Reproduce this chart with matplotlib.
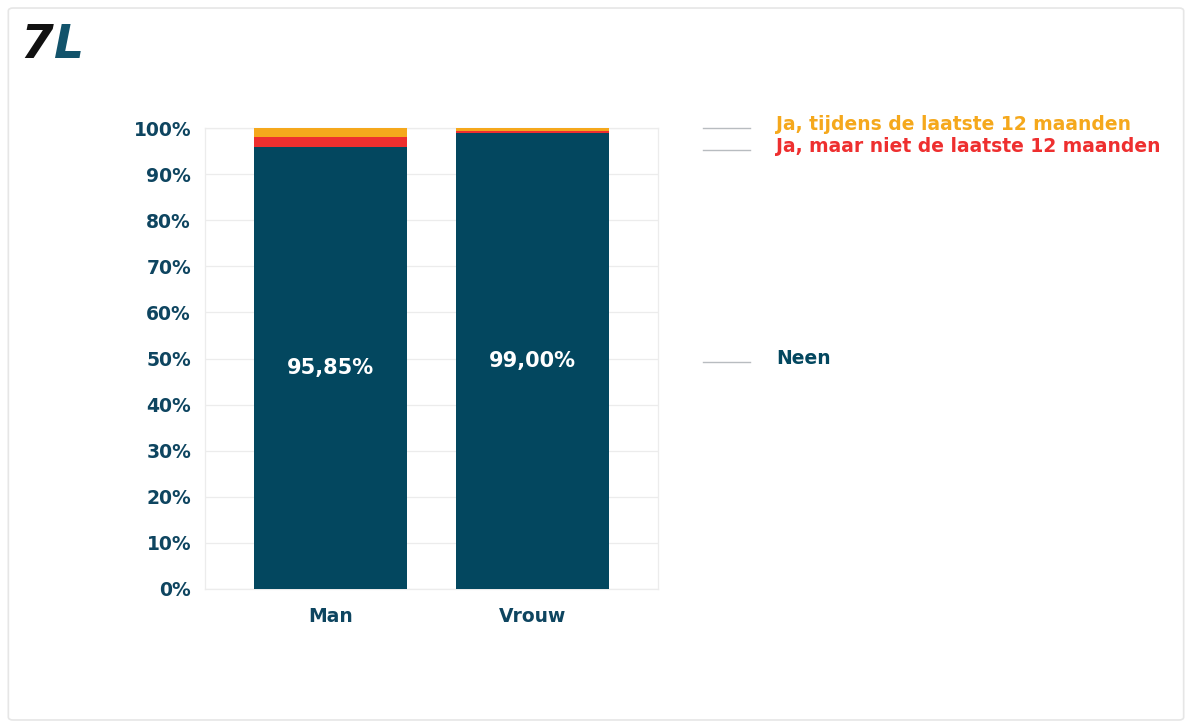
import numpy as np
import matplotlib.pyplot as plt
from matplotlib.patches import FancyBboxPatch
from matplotlib.ticker import PercentFormatter

plt.rcParams["font.family"] = "DejaVu Sans"

# %% Data
groups = ['Man', 'Vrouw']
neen = [95.85, 99.00]
ja_niet_laatste = [2.15, 0.45]
ja_laatste = [2.00, 0.55]
series_labels = ['Ja, tijdens de laatste 12 maanden',
                 'Ja, maar niet de laatste 12 maanden',
                 'Neen']

teal = '#03475f'
red = '#ee2f2f'
orange = '#f5a81c'

# %% Figure
fig = plt.figure(figsize=(11.92, 7.28), dpi=100)

# lichte kader rond de figuur
frame = FancyBboxPatch((0.007, 0.011), 0.986, 0.978, boxstyle='round,pad=0,rounding_size=0.004',
                       transform=fig.transFigure, fill=False, edgecolor='#e6e6e6', linewidth=1.2)
fig.patches.append(frame)

ax = fig.add_axes([205 / 1192, 1 - 589 / 728, (658 - 205) / 1192, (589 - 128) / 728])

x = np.arange(len(groups))
width = 0.76
neen_arr = np.array(neen)
red_arr = np.array(ja_niet_laatste)
ax.bar(x, neen, width, color=teal, zorder=3)
ax.bar(x, ja_niet_laatste, width, bottom=neen_arr, color=red, zorder=3)
ax.bar(x, ja_laatste, width, bottom=neen_arr + red_arr, color=orange, zorder=3)

# waarde in het midden van de 'Neen' balk
for xi, v in zip(x, neen):
    ax.text(xi, v / 2, '{:.2f}%'.format(v).replace('.', ','), ha='center', va='center',
            color='white', fontsize=15, fontweight='bold', zorder=4)

ax.set_xlim(-0.62, 1.62)
ax.set_ylim(0, 100)
ax.set_yticks(np.arange(0, 101, 10))
ax.yaxis.set_major_formatter(PercentFormatter(decimals=0))
ax.set_xticks(x)
ax.set_xticklabels(groups)
ax.tick_params(length=0, labelsize=13.5, labelcolor='#0e4560', pad=10)
ax.tick_params(axis='x', pad=13)
for lbl in ax.get_xticklabels() + ax.get_yticklabels():
    lbl.set_fontweight('bold')

ax.grid(axis='y', color='#ececec', linewidth=0.9, zorder=0)
for side in ['top', 'right', 'bottom', 'left']:
    ax.spines[side].set_color('#ececec')
    ax.spines[side].set_linewidth(0.9)

# Legende
legend_items = [(series_labels[0], orange, 125), (series_labels[1], red, 147), (series_labels[2], teal, 359)]
for text, color, ypix in legend_items:
    yf = 1 - ypix / 728
    fig.add_artist(plt.Line2D([703 / 1192, 750 / 1192], [yf - 0.004, yf - 0.004],
                              transform=fig.transFigure, color='#b8bcc0', linewidth=1))
    fig.text(776 / 1192, yf, text, color=color, fontsize=13.5, fontweight='bold', va='center', ha='left')

# Logo
fig.text(20 / 1192, 1 - 46 / 728, '7', color='#111111', fontsize=34, fontweight='bold',
         fontstyle='italic', va='center', ha='left')
fig.text(54 / 1192, 1 - 46 / 728, 'L', color='#12536b', fontsize=34, fontweight='bold',
         fontstyle='italic', va='center', ha='left')

plt.savefig('out.png', dpi=100)
